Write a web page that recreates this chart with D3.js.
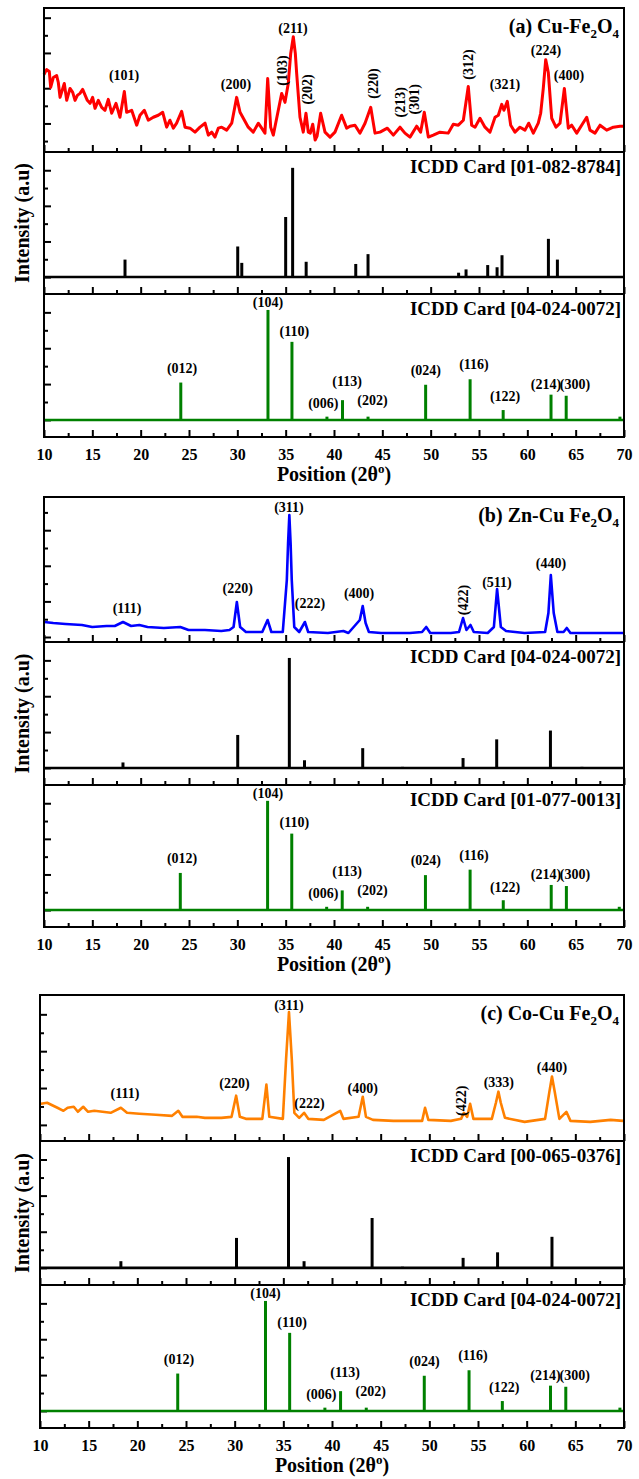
<!DOCTYPE html>
<html>
<head>
<meta charset="utf-8">
<script src="https://cdn.jsdelivr.net/npm/d3@7"></script>
<style>
  body { margin: 0; background: #fff; }
  text { font-family: "Liberation Serif", "Times New Roman", serif; font-weight: bold; fill: #000; }
</style>
</head>
<body>
<script>

// x axis tick labels, 2theta in degrees
var xTickLabels = [10, 15, 20, 25, 30, 35, 40, 45, 50, 55, 60, 65, 70];

// (a) Cu-Fe2O4 measured pattern [2theta, intensity a.u.]
var cuFeScan = [
  [10.0, 78], [10.1, 80], [10.28, 83], [10.55, 81], [10.69, 65], [10.96, 75], [11.31, 77], [11.48, 70],
  [11.66, 55], [12.1, 69], [12.35, 52], [12.69, 64], [12.97, 60], [13.21, 52], [13.45, 57], [13.72, 59],
  [14.0, 63], [14.48, 52], [14.76, 49], [15.03, 55], [15.28, 44], [15.62, 52], [15.97, 45], [16.31, 42],
  [16.65, 53], [17.0, 39], [17.45, 49], [17.86, 35], [18.31, 61], [18.55, 40], [19.07, 42], [19.59, 27],
  [19.93, 37], [20.38, 42], [20.79, 32], [21.31, 35], [21.82, 37], [22.28, 40], [22.69, 25], [23.03, 32],
  [23.38, 24], [23.72, 29], [24.24, 41], [24.59, 25], [25.1, 24], [25.62, 20], [26.14, 25], [26.66, 29],
  [27.0, 17], [27.35, 20], [27.69, 15], [28.03, 24], [28.38, 25], [28.9, 22], [29.42, 29], [29.93, 55],
  [30.28, 40], [30.62, 34], [31.13, 25], [31.65, 20], [32.17, 29], [32.52, 24], [32.86, 19], [33.14, 74],
  [33.45, 25], [33.72, 17], [34.07, 34], [34.59, 59], [34.93, 50], [35.27, 69], [35.52, 99], [35.79, 116],
  [36.0, 99], [36.14, 79], [36.48, 35], [36.82, 20], [37.1, 39], [37.34, 20], [37.55, 19], [37.8, 28],
  [38.05, 12], [38.25, 16], [38.62, 39], [39.07, 20], [39.59, 15], [40.1, 20], [40.79, 37], [41.31, 24],
  [41.66, 26], [42.17, 27], [42.69, 19], [43.21, 29], [43.8, 45], [44.24, 19], [44.76, 20], [45.52, 24],
  [46.14, 17], [46.83, 25], [47.34, 19], [47.86, 15], [48.55, 26], [48.96, 20], [49.34, 40], [49.76, 15],
  [50.27, 17], [50.96, 20], [51.82, 19], [52.34, 28], [52.86, 27], [53.38, 32], [53.89, 66], [54.24, 27],
  [54.59, 25], [55.1, 34], [55.62, 25], [56.14, 20], [56.66, 35], [57.0, 37], [57.35, 48], [57.58, 42],
  [57.93, 51], [58.28, 27], [58.72, 20], [59.24, 25], [59.76, 22], [60.14, 29], [60.62, 19], [61.13, 29],
  [61.38, 39], [61.65, 64], [61.9, 93], [62.17, 80], [62.52, 34], [62.96, 25], [63.38, 29], [63.83, 64],
  [64.24, 24], [64.59, 27], [65.11, 19], [65.62, 27], [66.14, 35], [66.48, 22], [67.0, 19], [67.52, 27],
  [68.21, 22], [68.9, 25], [69.59, 26], [70.0, 26]
];

// hkl labels [text, 2theta, intensity, vertical]
var cuFeHkl = [
  ["(101)", 18.28, 72, 0], ["(200)", 29.86, 63, 0], ["(103)", 34.62, 82, 1], ["(211)", 35.76, 120, 0],
  ["(202)", 37.21, 63, 1], ["(220)", 44.03, 69, 1], ["(213)", 46.83, 50, 1], ["(301)", 48.27, 53, 1],
  ["(312)", 53.86, 88, 1], ["(321)", 57.69, 63, 0], ["(224)", 61.93, 98, 0], ["(400)", 64.31, 72, 0]
];

// (b) Zn-Cu Fe2O4 measured pattern
var znCuScan = [
  [10.03, 20], [10.96, 19], [12.23, 18], [13.93, 17], [14.99, 15], [16.47, 16], [17.32, 16], [18.17, 20],
  [19.01, 16], [19.86, 17], [20.71, 15], [22.4, 14], [24.1, 15], [24.95, 12], [26.65, 12], [28.34, 11],
  [29.19, 12], [29.61, 15], [29.95, 40], [30.29, 15], [30.89, 10], [32.58, 10], [33.13, 22], [33.52, 10],
  [34.7, 10], [35.12, 62], [35.25, 99], [35.38, 127], [35.51, 99], [35.63, 62], [35.89, 15], [36.4, 10],
  [36.99, 20], [37.33, 10], [39.37, 9], [40.97, 11], [41.49, 9], [42.67, 22], [42.97, 36], [43.27, 19],
  [43.61, 10], [44.87, 9], [47.84, 9], [49.11, 10], [49.54, 15], [49.96, 9], [52.08, 9], [52.93, 10],
  [53.35, 24], [53.7, 12], [54.12, 17], [54.46, 10], [55.9, 9], [56.54, 15], [56.87, 53], [57.26, 15],
  [57.8, 11], [59.71, 9], [61.84, 10], [62.18, 29], [62.43, 67], [62.73, 29], [63.11, 10], [63.75, 10],
  [64.08, 14], [64.46, 9], [65.65, 9], [67.77, 9], [69.9, 9]
];

var znCuHkl = [
  ["(111)", 18.59, 29, 0], ["(220)", 30.04, 49, 0], ["(311)", 35.34, 130, 0], ["(222)", 37.52, 34, 0],
  ["(400)", 42.59, 44, 0], ["(422)", 53.34, 42, 1], ["(511)", 56.86, 55, 0], ["(440)", 62.45, 74, 0]
];

// (c) Co-Cu Fe2O4 measured pattern
var coCuScan = [
  [10.0, 37], [10.1, 37], [10.73, 38], [11.15, 36], [11.79, 33], [12.41, 30], [12.84, 33], [13.47, 34],
  [13.89, 29], [14.44, 34], [14.94, 29], [15.58, 30], [16.42, 29], [17.26, 28], [18.31, 33], [18.94, 28],
  [20.2, 27], [21.89, 26], [23.57, 25], [24.21, 30], [24.63, 24], [26.1, 24], [26.94, 23], [28.63, 23],
  [29.68, 24], [30.15, 45], [30.53, 24], [31.15, 22], [32.84, 22], [33.26, 56], [33.56, 24], [34.95, 22],
  [35.28, 81], [35.58, 128], [35.87, 81], [36.13, 28], [36.63, 23], [37.13, 28], [37.56, 22], [39.16, 21],
  [40.84, 30], [41.17, 22], [42.73, 24], [43.16, 44], [43.49, 24], [44.21, 21], [46.31, 20], [49.26, 20],
  [49.56, 33], [49.9, 21], [52.21, 20], [53.26, 22], [53.55, 28], [53.89, 24], [54.19, 37], [54.53, 22],
  [56.42, 22], [56.84, 38], [57.1, 49], [57.34, 38], [57.77, 23], [59.79, 19], [61.89, 22], [62.32, 48],
  [62.6, 64], [62.9, 48], [63.36, 22], [64.08, 29], [64.5, 20], [66.53, 19], [68.63, 21], [69.9, 20]
];

var coCuHkl = [
  ["(111)", 18.73, 43, 0], ["(220)", 29.97, 53, 0], ["(311)", 35.58, 130, 0], ["(222)", 37.68, 33, 0],
  ["(400)", 43.16, 48, 0], ["(422)", 53.26, 40, 1], ["(333)", 57.14, 54, 0], ["(440)", 62.6, 69, 0]
];

// reference cards, [2theta, relative intensity %]
var card01_082_8784 = [
  [18.38, 16], [30.04, 28], [30.46, 13], [35.0, 55], [35.72, 100], [37.12, 14], [42.25, 12], [43.52, 21],
  [46.99, 1], [47.3, 1], [52.89, 4], [53.66, 7], [55.9, 11], [56.87, 9], [57.38, 20], [62.18, 35],
  [63.11, 16], [65.0, 1], [66.3, 1], [69.55, 1]
];
var card04_024_0072_b = [
  [18.17, 5], [30.04, 30], [35.38, 100], [36.95, 7], [42.97, 18], [47.09, 1], [53.35, 9], [56.83, 26],
  [62.39, 34], [65.65, 1]
];
var card00_065_0376 = [
  [18.31, 6], [30.19, 27], [35.53, 100], [37.13, 6], [44.12, 45], [47.24, 1], [53.47, 9], [57.01, 14],
  [62.6, 28]
];
var card04_024_0072 = [
  [24.15, 34], [33.17, 100], [35.65, 71], [39.27, 3], [40.88, 18], [43.52, 3], [49.48, 32], [54.08, 37],
  [57.5, 9], [62.45, 23], [64.02, 22], [69.58, 3]
];
var card01_077_0013 = [
  [24.1, 34], [33.13, 100], [35.63, 70], [39.24, 3], [40.85, 18], [43.48, 3], [49.46, 32], [54.08, 37],
  [57.51, 9], [62.47, 23], [64.04, 22], [69.51, 3]
];
var hematiteHkl = [
  ["(012)", 24.28, 43, 0], ["(104)", 33.17, 103, 0], ["(110)", 35.9, 76, 0], ["(006)", 38.9, 11, 0],
  ["(113)", 41.35, 31, 0], ["(202)", 43.98, 14, 0], ["(024)", 49.5, 41, 0], ["(116)", 54.48, 46, 0],
  ["(122)", 57.7, 17, 0], ["(214)", 61.93, 28, 0], ["(300)", 64.93, 28, 0]
];

var width = 639, height = 1479;

var scanDomain = [0, 145],
    stickDomain = [-15.5, 114.5];

var green = "#008000";

// one block per sample: scan on top, its own card, then the hematite card
var groups = [
  {x0: 44, x1: 624, rows: [8, 152, 294, 437], tick0: 11, tickStep: 17.75, majorAt: 1,
   name: "(a) Cu-Fe", scan: cuFeScan, color: "#ff0000", lw: 3, hkl: cuFeHkl,
   card: card01_082_8784, cardName: "ICDD Card [01-082-8784]",
   ref: card04_024_0072, refName: "ICDD Card [04-024-0072]"},
  {x0: 44, x1: 624, rows: [497, 642, 785, 927], tick0: 5, tickStep: 17.8, majorAt: 0,
   name: "(b) Zn-Cu Fe", scan: znCuScan, color: "#0000ff", lw: 2.6, hkl: znCuHkl,
   card: card04_024_0072_b, cardName: "ICDD Card [04-024-0072]",
   ref: card01_077_0013, refName: "ICDD Card [01-077-0013]"},
  {x0: 40, x1: 624, rows: [995, 1141, 1285, 1428], tick0: 16, tickStep: 18.3, majorAt: 0,
   name: "(c) Co-Cu Fe", scan: coCuScan, color: "#ff8000", lw: 2.6, hkl: coCuHkl,
   card: card00_065_0376, cardName: "ICDD Card [00-065-0376]",
   ref: card04_024_0072, refName: "ICDD Card [04-024-0072]"}
];

var svg = d3.select("body").append("svg")
    .attr("width", width)
    .attr("height", height);

groups.forEach(function(grp) {
  var x = d3.scaleLinear().domain([10, 70]).range([grp.x0, grp.x1]);

  var panels = [
    {kind: "scan"},
    {kind: "stick", data: grp.card, color: "#000", label: grp.cardName},
    {kind: "stick", data: grp.ref, color: green, label: grp.refName, hkl: hematiteHkl}
  ];

  panels.forEach(function(p, i) {
    var top = grp.rows[i], bottom = grp.rows[i + 1];
    var isScan = p.kind == "scan";
    var y = d3.scaleLinear().domain(isScan ? scanDomain : stickDomain).range([bottom, top]);
    var g = svg.append("g");

    // y ticks, inward, alternating major / minor
    var yt = isScan ? d3.range(grp.tick0, 143, grp.tickStep) : d3.range(0, 113, 16.3);
    var major = isScan ? yt.filter(function(d, k) { return k % 2 == grp.majorAt; })
                       : yt.filter(function(d, k) { return k % 2 == 0; });
    var minor = yt.filter(function(d) { return major.indexOf(d) < 0; });

    g.append("g").attr("transform", "translate(" + grp.x0 + ",0)")
      .call(d3.axisLeft(y).tickValues(major).tickSizeInner(-7).tickSizeOuter(0).tickFormat(""));
    g.append("g").attr("transform", "translate(" + grp.x0 + ",0)")
      .call(d3.axisLeft(y).tickValues(minor).tickSizeInner(-4).tickSizeOuter(0).tickFormat(""));

    // x ticks on every panel bottom, labels only on the last one
    var last = i == 2;
    g.append("g").attr("transform", "translate(0," + bottom + ")")
      .call(d3.axisBottom(x).tickValues(xTickLabels).tickSizeInner(-7).tickSizeOuter(0)
        .tickPadding(12).tickFormat(last ? d3.format("d") : ""));
    g.append("g").attr("transform", "translate(0," + bottom + ")")
      .call(d3.axisBottom(x).tickValues(d3.range(12.5, 70, 5)).tickSizeInner(-4).tickSizeOuter(0).tickFormat(""));

    g.selectAll(".domain").remove();
    g.selectAll(".tick line").attr("stroke", "#000").attr("stroke-width", 2);
    g.selectAll(".tick text").style("font-size", "16px").style("font-family", null);

    if (isScan) {
      var line = d3.line().x(function(d) { return x(d[0]); }).y(function(d) { return y(d[1]); });
      g.append("path")
        .datum(grp.scan)
        .attr("fill", "none")
        .attr("stroke", grp.color)
        .attr("stroke-width", grp.lw)
        .attr("stroke-linejoin", "round")
        .attr("d", line);

      // sample title with subscripts
      var t = g.append("text")
        .attr("x", grp.x1 - 5)
        .attr("y", top + 25)
        .attr("text-anchor", "end")
        .style("font-size", "20px");
      t.append("tspan").text(grp.name);
      t.append("tspan").text("2").attr("dy", 5).style("font-size", "13px");
      t.append("tspan").text("O").attr("dy", -5);
      t.append("tspan").text("4").attr("dy", 5).style("font-size", "13px");

      drawHkl(g, grp.hkl, x, y);
    } else {
      // zero line and sticks
      g.append("line")
        .attr("x1", grp.x0).attr("x2", grp.x1)
        .attr("y1", y(0)).attr("y2", y(0))
        .attr("stroke", p.color)
        .attr("stroke-width", 2.6);

      g.selectAll(".stick")
        .data(p.data)
        .enter()
        .append("line")
        .attr("x1", function(d) { return x(d[0]); })
        .attr("x2", function(d) { return x(d[0]); })
        .attr("y1", y(0))
        .attr("y2", function(d) { return y(d[1]); })
        .attr("stroke", p.color)
        .attr("stroke-width", 3);

      g.append("text")
        .attr("x", grp.x1 - 3)
        .attr("y", top + 21)
        .attr("text-anchor", "end")
        .style("font-size", "19px")
        .text(p.label);

      if (p.hkl) drawHkl(g, p.hkl, x, y);
    }

    // panel frame
    g.append("rect")
      .attr("x", grp.x0).attr("y", top)
      .attr("width", grp.x1 - grp.x0).attr("height", bottom - top)
      .attr("fill", "none")
      .attr("stroke", "#000")
      .attr("stroke-width", 2);
  });

  // axis titles
  var mid = (grp.rows[1] + grp.rows[2]) / 2;
  svg.append("text")
    .attr("transform", "translate(" + 22 + "," + mid + ") rotate(-90)")
    .attr("text-anchor", "middle")
    .attr("dy", "0.35em")
    .style("font-size", "20px")
    .text("Intensity (a.u)");

  var xt = svg.append("text")
    .attr("x", (grp.x0 + grp.x1) / 2)
    .attr("y", grp.rows[3] + 44)
    .attr("text-anchor", "middle")
    .style("font-size", "20px");
  xt.append("tspan").text("Position (2\u03b8");
  xt.append("tspan").text("o").attr("dy", -8).style("font-size", "13px");
  xt.append("tspan").text(")").attr("dy", 8);
});

function drawHkl(g, list, x, y) {
  g.selectAll(".hkl")
    .data(list)
    .enter()
    .append("text")
    .attr("transform", function(d) {
      var tr = "translate(" + x(d[1]) + "," + y(d[2]) + ")";
      return d[3] ? tr + " rotate(-90)" : tr;
    })
    .attr("dy", function(d) { return d[3] ? "0.35em" : 0; })
    .attr("text-anchor", "middle")
    .style("font-size", "14px")
    .text(function(d) { return d[0]; });
}

</script>
</body>
</html>
